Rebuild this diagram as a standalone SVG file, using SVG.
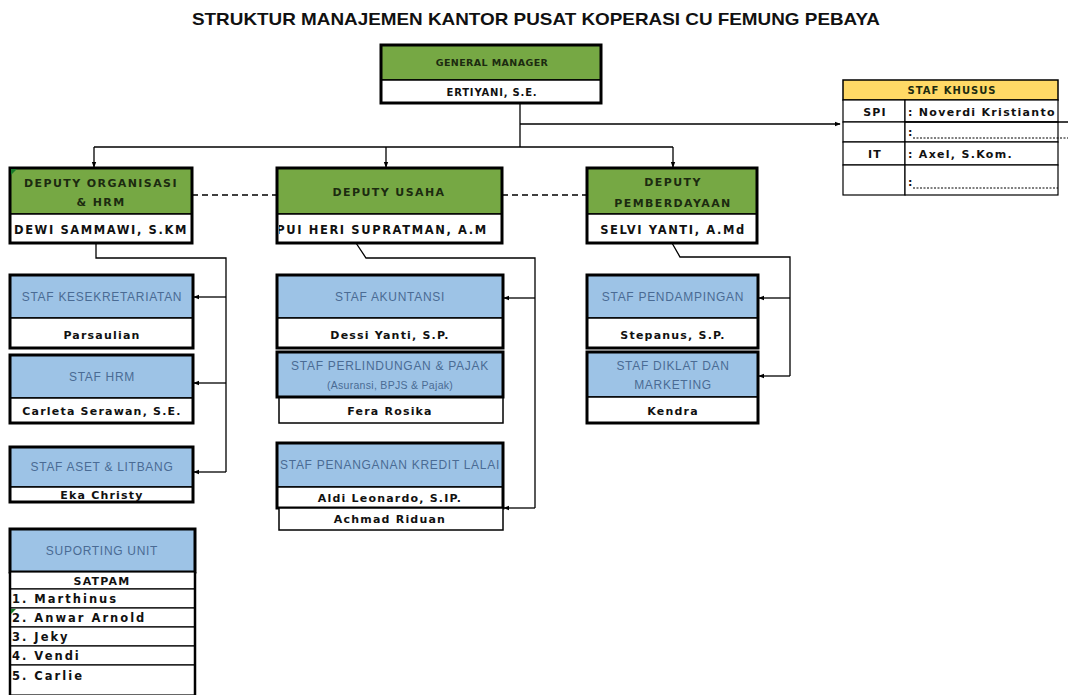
<svg xmlns="http://www.w3.org/2000/svg" width="1071" height="695" viewBox="0 0 1071 695">
<style>
.bg{fill:#ffffff}
.box{fill:none;stroke:#000;stroke-width:3}
.green{fill:#76A844;stroke:#000;stroke-width:1.5}
.blue{fill:#9DC3E6;stroke:#000;stroke-width:1.5}
.white{fill:#fff;stroke:#000;stroke-width:1.5}
.yellow{fill:#FFD966;stroke:#000;stroke-width:1.5}
.cell{fill:#fff;stroke:#000;stroke-width:1.2}
.ht{font-family:"DejaVu Sans",sans-serif;font-weight:bold;font-size:11px;letter-spacing:1.4px;fill:#1c2b10;text-anchor:middle}
.gt{font-family:"DejaVu Sans",sans-serif;font-weight:bold;font-size:9.5px;letter-spacing:0.4px;fill:#1c2b10;text-anchor:middle}
.dn{font-family:"DejaVu Sans",sans-serif;font-weight:bold;font-size:11.5px;letter-spacing:1.6px;fill:#111;text-anchor:middle}
.nt{font-family:"DejaVu Sans",sans-serif;font-weight:bold;font-size:11px;letter-spacing:1.2px;fill:#111;text-anchor:middle}
.st{font-family:"Liberation Sans",sans-serif;font-size:12px;letter-spacing:0.7px;fill:#4a6b94;text-anchor:middle}
.kt{font-family:"DejaVu Sans",sans-serif;font-weight:bold;font-size:11px;letter-spacing:1.3px;fill:#111}
.lt{font-family:"DejaVu Sans",sans-serif;font-weight:bold;font-size:11.5px;letter-spacing:2px;fill:#111}
.title{font-family:"Liberation Sans",sans-serif;font-weight:bold;font-size:17px;fill:#111}
.ln{fill:none;stroke:#000;stroke-width:1.3}
.dash{fill:none;stroke:#000;stroke-width:1.3;stroke-dasharray:6,4}
.dot{fill:none;stroke:#000;stroke-width:1;stroke-dasharray:2,1.5}
</style>
<defs>
<marker id="ah" viewBox="0 0 8 8" refX="7" refY="4" markerWidth="6" markerHeight="6" orient="auto" markerUnits="userSpaceOnUse">
<path d="M0,1 L8,4 L0,7 z" fill="#000"/>
</marker>
<clipPath id="c1"><rect x="10" y="214" width="182" height="29"/></clipPath>
<clipPath id="c2"><rect x="279" y="214" width="222" height="29"/></clipPath>
</defs>
<rect class="bg" x="0" y="0" width="1071" height="695"/>
<text class="title" x="192" y="25" textLength="688" lengthAdjust="spacingAndGlyphs">STRUKTUR MANAJEMEN KANTOR PUSAT KOPERASI CU FEMUNG PEBAYA</text>

<g id="connectors">
<path class="ln" d="M520,103 V147"/>
<path class="ln" d="M520,124 H840" marker-end="url(#ah)"/>
<path class="ln" d="M94,147 H673"/>
<path class="ln" d="M94,147 V167" marker-end="url(#ah)"/>
<path class="ln" d="M386,147 V167" marker-end="url(#ah)"/>
<path class="ln" d="M673,147 V167" marker-end="url(#ah)"/>
<path class="dash" d="M192,195 H277"/>
<path class="dash" d="M502,195 H587"/>
<path class="ln" d="M96,243 V258 H226 V472"/>
<path class="ln" d="M226,297 H194" marker-end="url(#ah)"/>
<path class="ln" d="M226,383 H194" marker-end="url(#ah)"/>
<path class="ln" d="M226,472 H194" marker-end="url(#ah)"/>
<path class="ln" d="M356,243 L366,258 H535 V508"/>
<path class="ln" d="M535,298 H504" marker-end="url(#ah)"/>
<path class="ln" d="M535,508 H504" marker-end="url(#ah)"/>
<path class="ln" d="M672,243 L680,257 H790 V376"/>
<path class="ln" d="M790,298 H759" marker-end="url(#ah)"/>
<path class="ln" d="M790,376 H759" marker-end="url(#ah)"/>
</g>

<g id="gm">
<rect class="green" x="381" y="45" width="220" height="35"/>
<rect class="white" x="381" y="80" width="220" height="23"/>
<rect class="box" x="381" y="45" width="220" height="58"/>
<text class="gt" x="492" y="66">GENERAL MANAGER</text>
<text class="nt" x="492" y="96" style="font-size:10px;letter-spacing:0.8px">ERTIYANI, S.E.</text>
</g>

<g id="staf-khusus">
<rect class="yellow" x="843" y="80" width="215" height="20"/>
<text class="ht" x="952" y="94" style="font-size:10px;letter-spacing:1px">STAF KHUSUS</text>
<rect class="cell" x="843" y="100" width="62" height="22"/>
<rect class="cell" x="905" y="100" width="153" height="22"/>
<rect class="cell" x="843" y="122" width="62" height="20"/>
<rect class="cell" x="905" y="122" width="153" height="20"/>
<rect class="cell" x="843" y="142" width="62" height="23"/>
<rect class="cell" x="905" y="142" width="153" height="23"/>
<rect class="cell" x="843" y="165" width="62" height="30"/>
<rect class="cell" x="905" y="165" width="153" height="30"/>
<text class="nt" x="875" y="116">SPI</text>
<text class="kt" x="908" y="116">: Noverdi Kristianto</text>
<path class="ln" d="M905,122 H1068"/>
<text class="kt" x="908" y="136">:</text>
<path class="dot" d="M913,138 H1068"/>
<text class="nt" x="875" y="158">IT</text>
<text class="kt" x="908" y="158">: Axel, S.Kom.</text>
<text class="kt" x="908" y="186">:</text>
<path class="dot" d="M913,188 H1058"/>
</g>

<g id="deputy-org">
<rect class="green" x="10" y="168" width="182" height="46"/>
<rect class="white" x="10" y="214" width="182" height="29"/>
<rect class="box" x="10" y="168" width="182" height="75"/>
<path d="M11,169 L17,169 L11,175 z" fill="#1a7a2a"/>
<text class="ht" x="101" y="187">DEPUTY ORGANISASI</text>
<text class="ht" x="101" y="206">&amp; HRM</text>
<text class="dn" x="101" y="234" clip-path="url(#c1)">DEWI SAMMAWI, S.KM</text>
</g>

<g id="deputy-usaha">
<rect class="green" x="277" y="168" width="225" height="46"/>
<rect class="white" x="277" y="214" width="225" height="29"/>
<rect class="box" x="277" y="168" width="225" height="75"/>
<text class="ht" x="389" y="196">DEPUTY USAHA</text>
<text class="dn" x="382" y="234" clip-path="url(#c2)">PUI HERI SUPRATMAN, A.M</text>
</g>

<g id="deputy-pemberdayaan">
<rect class="green" x="587" y="168" width="170" height="46"/>
<rect class="white" x="587" y="214" width="170" height="29"/>
<rect class="box" x="587" y="168" width="170" height="75"/>
<text class="ht" x="673" y="186">DEPUTY</text>
<text class="ht" x="673" y="207">PEMBERDAYAAN</text>
<text class="dn" x="673" y="234">SELVI YANTI, A.Md</text>
</g>

<g id="staf-kesekretariatan">
<rect class="blue" x="10" y="275" width="183" height="43"/>
<rect class="white" x="10" y="318" width="183" height="30"/>
<rect class="box" x="10" y="275" width="183" height="73"/>
<text class="st" x="102" y="301">STAF KESEKRETARIATAN</text>
<text class="nt" x="102" y="339">Parsaulian</text>
</g>

<g id="staf-hrm">
<rect class="blue" x="10" y="355" width="183" height="43"/>
<rect class="white" x="10" y="398" width="183" height="25"/>
<rect class="box" x="10" y="355" width="183" height="68"/>
<text class="st" x="102" y="381">STAF HRM</text>
<text class="nt" x="102" y="415">Carleta Serawan, S.E.</text>
</g>

<g id="staf-aset">
<rect class="blue" x="10" y="447" width="183" height="40"/>
<rect class="white" x="10" y="487" width="183" height="15"/>
<rect class="box" x="10" y="447" width="183" height="55"/>
<text class="st" x="102" y="471">STAF ASET &amp; LITBANG</text>
<text class="nt" x="102" y="499">Eka Christy</text>
</g>

<g id="supporting-unit">
<rect class="blue" x="10" y="529" width="185" height="43"/>
<rect class="box" x="10" y="529" width="185" height="43"/>
<rect class="cell" x="10" y="572" width="185" height="17"/>
<rect class="cell" x="10" y="589" width="185" height="19"/>
<rect class="cell" x="10" y="608" width="185" height="19"/>
<rect class="cell" x="10" y="627" width="185" height="19"/>
<rect class="cell" x="10" y="646" width="185" height="19"/>
<rect class="cell" x="10" y="665" width="185" height="30"/>
<path class="ln" d="M10,572 V695 M195,572 V695" style="stroke-width:2.5"/>
<path d="M11,609 L16,609 L11,614 z" fill="#1a7a2a"/>
<text class="st" x="102" y="555">SUPORTING UNIT</text>
<text class="nt" x="102" y="585">SATPAM</text>
<text class="lt" x="12" y="603">1. Marthinus</text>
<text class="lt" x="12" y="622">2. Anwar Arnold</text>
<text class="lt" x="12" y="641">3. Jeky</text>
<text class="lt" x="12" y="660">4. Vendi</text>
<text class="lt" x="12" y="680">5. Carlie</text>
</g>

<g id="staf-akuntansi">
<rect class="blue" x="277" y="275" width="226" height="43"/>
<rect class="white" x="277" y="318" width="226" height="30"/>
<rect class="box" x="277" y="275" width="226" height="73"/>
<text class="st" x="390" y="301">STAF AKUNTANSI</text>
<text class="nt" x="390" y="339">Dessi Yanti, S.P.</text>
</g>

<g id="staf-perlindungan">
<rect class="blue" x="277" y="352" width="226" height="45"/>
<rect class="white" x="279" y="397" width="224" height="26"/>
<rect class="box" x="277" y="352" width="226" height="45"/>
<text class="st" x="390" y="370">STAF PERLINDUNGAN &amp; PAJAK</text>
<text class="st" x="390" y="389" style="font-size:10.5px;letter-spacing:0.3px">(Asuransi, BPJS &amp; Pajak)</text>
<text class="nt" x="390" y="415">Fera Rosika</text>
</g>

<g id="staf-kredit">
<rect class="blue" x="277" y="443" width="226" height="44"/>
<rect class="white" x="277" y="487" width="226" height="21"/>
<rect class="box" x="277" y="443" width="226" height="65"/>
<rect class="white" x="279" y="508" width="224" height="22"/>
<text class="st" x="390" y="469">STAF PENANGANAN KREDIT LALAI</text>
<text class="nt" x="390" y="502">Aldi Leonardo, S.IP.</text>
<text class="nt" x="390" y="523">Achmad Riduan</text>
</g>

<g id="staf-pendampingan">
<rect class="blue" x="587" y="275" width="171" height="43"/>
<rect class="white" x="587" y="318" width="171" height="30"/>
<rect class="box" x="587" y="275" width="171" height="73"/>
<text class="st" x="673" y="301">STAF PENDAMPINGAN</text>
<text class="nt" x="673" y="339">Stepanus, S.P.</text>
</g>

<g id="staf-diklat">
<rect class="blue" x="587" y="352" width="171" height="45"/>
<rect class="white" x="587" y="397" width="171" height="26"/>
<rect class="box" x="587" y="352" width="171" height="71"/>
<text class="st" x="673" y="370">STAF DIKLAT DAN</text>
<text class="st" x="673" y="389">MARKETING</text>
<text class="nt" x="673" y="415">Kendra</text>
</g>
</svg>
